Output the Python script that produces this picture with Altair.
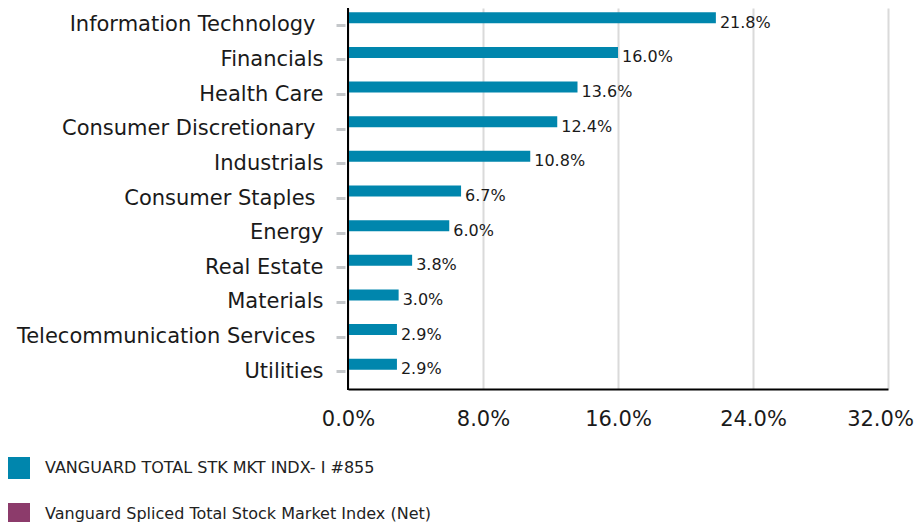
import altair as alt
import pandas as pd

categories = [
    "Information Technology", "Financials", "Health Care", "Consumer Discretionary",
    "Industrials", "Consumer Staples", "Energy", "Real Estate", "Materials",
    "Telecommunication Services", "Utilities",
]
fund_values = [21.8, 16.0, 13.6, 12.4, 10.8, 6.7, 6.0, 3.8, 3.0, 2.9, 2.9]
series_names = [
    "VANGUARD TOTAL STK MKT INDX- I #855",
    "Vanguard Spliced Total Stock Market Index (Net)",
]
series_colors = ["#0086ad", "#8c3b6b"]
x_ticks = [0, 8, 16, 24, 32]
spaced_labels = ["Information Technology", "Consumer Discretionary",
                 "Consumer Staples", "Telecommunication Services"]

df = pd.DataFrame({
    "category": categories,
    "value": fund_values,
    "series": [series_names[0]] * len(categories),
})

FONT = "DejaVu Sans"
W, H = 540, 381

spaced_test = "indexof(" + str(spaced_labels) + ", datum.value) >= 0"

y_enc = alt.Y(
    "category:N", sort=categories, title=None,
    scale=alt.Scale(paddingInner=0, paddingOuter=0),
    axis=alt.Axis(
        domain=False, offset=3, tickSize=9, tickWidth=3, tickColor="#c4c7ca",
        labelPadding={"condition": {"test": spaced_test, "value": 21}, "value": 13},
        labelFont=FONT, labelFontSize=21, labelColor="#1a1a1a",
        labelLimit=400, grid=False,
    ),
)
x_enc = alt.X(
    "value:Q", title=None,
    scale=alt.Scale(domain=[0, 32], nice=False, zero=True),
    axis=alt.Axis(
        values=x_ticks, labelExpr="format(datum.value, '.1f') + '%'",
        ticks=False, domain=True, domainColor="#000000", domainWidth=2,
        grid=True, gridColor="#dadada", gridWidth=2,
        labelFont=FONT, labelFontSize=21, labelColor="#1a1a1a", labelPadding=19,
        labelFlush=False,
        labelOffset={"condition": {"test": "datum.value == 32", "value": -8}, "value": 0},
    ),
)

bars = alt.Chart(df).mark_bar(height=11, yOffset=-7.5).encode(
    x=x_enc,
    y=y_enc,
    color=alt.Color(
        "series:N",
        scale=alt.Scale(domain=series_names, range=series_colors),
        legend=alt.Legend(
            title=None, orient="none", legendX=-340, legendY=449, direction="vertical",
            symbolType="square", symbolSize=484, symbolStrokeWidth=0, symbolOpacity=1,
            labelFont=FONT, labelFontSize=16, labelColor="#222222", labelLimit=600,
            labelOffset=15, rowPadding=24, padding=0,
        ),
    ),
)

labels = alt.Chart(df).transform_calculate(
    lbl="format(datum.value, '.1f') + '%'"
).mark_text(
    align="left", baseline="middle", dx=4, yOffset=-2.5,
    font=FONT, fontSize=16, color="#1a1a1a",
).encode(
    x="value:Q",
    y=alt.Y("category:N", sort=categories),
    text="lbl:N",
)

vline = alt.Chart(alt.Data(values=[{}])).mark_rule(color="#000000", strokeWidth=2).encode(
    x=alt.value(0), y=alt.value(0), y2=alt.value(H + 1),
)

chart = alt.layer(bars, labels, vline).properties(
    width=W, height=H,
    autosize=alt.AutoSizeParams(type="none"),
    padding={"left": 340, "top": 0, "right": 26, "bottom": 133},
).configure_view(stroke=None)

chart.save("out.html", embed_options={"renderer": "svg", "actions": False})
